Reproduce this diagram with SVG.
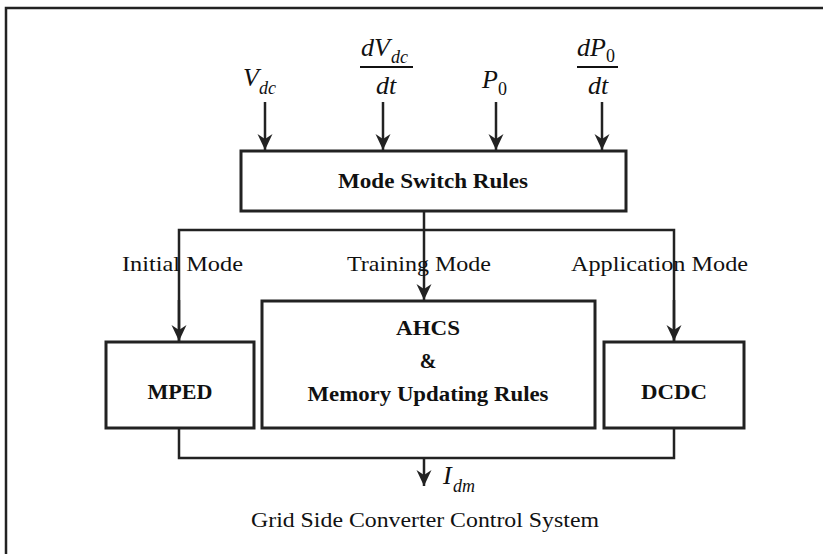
<svg xmlns="http://www.w3.org/2000/svg" width="823" height="554" viewBox="0 0 823 554">
<defs>
<marker id="ah" markerUnits="userSpaceOnUse" markerWidth="20" markerHeight="20" viewBox="-18 -9 20 18" refX="0" refY="0" orient="auto">
<path d="M0,0 L-16,-7.5 L-11,0 L-16,7.5 Z" fill="#222"/>
</marker>
<style>
.box{fill:#fff;stroke:#222;stroke-width:3}
.ln{fill:none;stroke:#222;stroke-width:2.5}
.b{font-family:"Liberation Serif","DejaVu Serif",serif;font-weight:bold;font-size:20px;fill:#111;text-anchor:middle}
.r{font-family:"Liberation Serif","DejaVu Serif",serif;font-size:21px;fill:#111}
.m{font-family:"Liberation Serif","DejaVu Serif",serif;font-style:italic;font-size:26px;fill:#111}
.s{font-family:"Liberation Serif","DejaVu Serif",serif;font-style:italic;font-size:18px;fill:#111}
.u{font-family:"Liberation Serif","DejaVu Serif",serif;font-size:18px;fill:#111}
</style>
</defs>
<rect width="823" height="554" fill="#fff"/>
<path d="M6,554 V8 H823" fill="none" stroke="#222" stroke-width="2.5"/>

<g id="inputs">
<text class="m" x="243" y="86">V</text><text class="s" x="259" y="94">dc</text>
<text class="m" x="361" y="56">dV</text><text class="s" x="391" y="63">dc</text>
<line x1="360" y1="67" x2="413" y2="67" stroke="#111" stroke-width="2"/>
<text class="m" x="386" y="94" text-anchor="middle">dt</text>
<text class="m" x="482" y="88">P</text><text class="u" x="498" y="95">0</text>
<text class="m" x="577" y="56">dP</text><text class="u" x="606" y="62">0</text>
<line x1="577" y1="67" x2="618" y2="67" stroke="#111" stroke-width="2"/>
<text class="m" x="598" y="94" text-anchor="middle">dt</text>
</g>

<g id="connectors">
<line class="ln" x1="265" y1="102" x2="265" y2="150" marker-end="url(#ah)"/>
<line class="ln" x1="383" y1="102" x2="383" y2="150" marker-end="url(#ah)"/>
<line class="ln" x1="496" y1="102" x2="496" y2="150" marker-end="url(#ah)"/>
<line class="ln" x1="602" y1="102" x2="602" y2="150" marker-end="url(#ah)"/>
<line class="ln" x1="424" y1="211" x2="424" y2="300" marker-end="url(#ah)"/>
<path class="ln" d="M179,341 V230 H674 V341"/>
<line class="ln" x1="179" y1="300" x2="179" y2="341" marker-end="url(#ah)"/>
<line class="ln" x1="674" y1="300" x2="674" y2="341" marker-end="url(#ah)"/>
<path class="ln" d="M179,428 V458 H674 V428"/>
<line class="ln" x1="424" y1="458" x2="424" y2="486" marker-end="url(#ah)"/>
</g>

<g id="labels">
<text class="r" x="122" y="271" textLength="121" lengthAdjust="spacingAndGlyphs">Initial  Mode</text>
<text class="r" x="347" y="271" textLength="144" lengthAdjust="spacingAndGlyphs">Training  Mode</text>
<text class="r" x="571" y="271" textLength="177" lengthAdjust="spacingAndGlyphs">Application  Mode</text>
</g>

<g id="mode-switch">
<rect class="box" x="241" y="151" width="385" height="60"/>
<text class="b" x="433" y="188" textLength="190" lengthAdjust="spacingAndGlyphs">Mode Switch Rules</text>
</g>

<g id="ahcs">
<rect class="box" x="262" y="301" width="333" height="127"/>
<text class="b" x="428" y="335" textLength="64" lengthAdjust="spacingAndGlyphs">AHCS</text>
<text class="b" x="428" y="368">&amp;</text>
<text class="b" x="428" y="401" textLength="241" lengthAdjust="spacingAndGlyphs">Memory Updating Rules</text>
</g>

<g id="mped">
<rect class="box" x="106" y="342" width="148" height="86"/>
<text class="b" x="180" y="399" textLength="65" lengthAdjust="spacingAndGlyphs">MPED</text>
</g>

<g id="dcdc">
<rect class="box" x="604" y="342" width="140" height="86"/>
<text class="b" x="674" y="399" textLength="66" lengthAdjust="spacingAndGlyphs">DCDC</text>
</g>

<g id="output">
<text class="m" x="443" y="484">I</text><text class="s" x="453" y="492">dm</text>
<text class="r" x="425" y="527" text-anchor="middle" textLength="348" lengthAdjust="spacingAndGlyphs">Grid Side Converter Control System</text>
</g>
</svg>
